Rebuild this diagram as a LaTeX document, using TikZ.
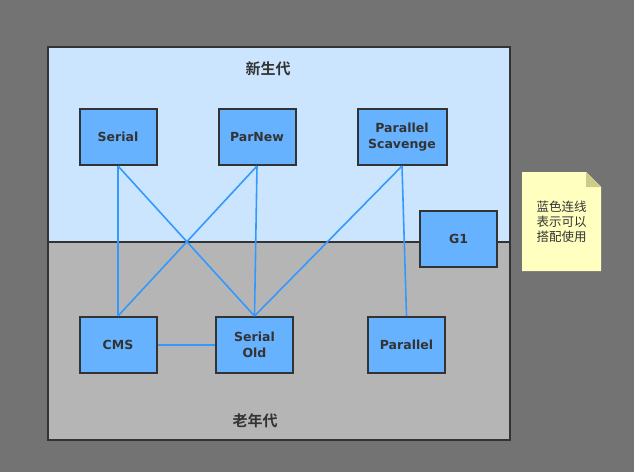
\documentclass[tikz,border=0pt]{standalone}
\usepackage{fontspec}
\setmainfont{DejaVu Sans}
\newfontfamily\cjk{Noto Sans CJK SC}[BoldFont={Noto Sans CJK SC Bold}]
\definecolor{bgGray}{HTML}{737373}
\definecolor{youngBlue}{HTML}{CCE5FF}
\definecolor{oldGray}{HTML}{B5B5B5}
\definecolor{boxBlue}{HTML}{66B2FF}
\definecolor{edgeDark}{HTML}{333333}
\definecolor{linkBlue}{HTML}{3399FF}
\definecolor{noteYellow}{HTML}{FFFFC0}
\definecolor{noteFold}{HTML}{CCCC88}

\tikzset{
  gcbox/.style={draw=edgeDark,line width=2pt,fill=boxBlue,minimum width=77pt,minimum height=56pt,
    align=center,text=edgeDark,font=\fontsize{12.5}{15.5}\selectfont\bfseries},
  link/.style={draw=linkBlue,line width=1.6pt},
  genlabel/.style={text=edgeDark,font=\cjk\fontsize{15}{18}\selectfont\bfseries}
}

\begin{document}
\begin{tikzpicture}[x=1pt,y=-1pt]
		% background and regions
		\fill[bgGray] (0,0) rectangle (634,472);
		\useasboundingbox (0,0) rectangle (634,472);
		\fill[youngBlue] (48,47) rectangle (510,241.5);
		\fill[oldGray] (48,241.5) rectangle (510,440);
		\draw[edgeDark,line width=2pt] (48,241.5)--(510,241.5);
		\draw[edgeDark,line width=2pt] (48,47) rectangle (510,440);
		\node[genlabel](young) at (268,69) {新生代};
		\node[genlabel](old) at (255,421) {老年代};
		% collectors
		\node[gcbox](serial) at (118,137) {Serial};
		\node[gcbox](parnew) at (257,137) {ParNew};
		\node[gcbox,minimum width=89pt](ps) at (402,137) {Parallel\\Scavenge};
		\node[gcbox](g1) at (458.5,239) {G1};
		\node[gcbox](cms) at (118,345) {CMS};
		\node[gcbox](serialold) at (254.5,345) {Serial\\Old};
		\node[gcbox](parallel) at (406.5,345) {Parallel};
		% combinations
		\draw[link] (serial.south)--(cms.north);
		\draw[link] (serial.south)--(serialold.north);
		\draw[link] (parnew.south)--(cms.north);
		\draw[link] (parnew.south)--(serialold.north);
		\draw[link] (ps.south)--(serialold.north);
		\draw[link] (ps.south)--(parallel.north);
		\draw[link] (cms.east)--(serialold.west);
		% note
		\fill[noteYellow] (522,172)--(586,172)--(601,187)--(601,271)--(522,271)--cycle;
		\fill[noteFold] (586,172)--(601,187)--(586,187)--cycle;
		\node[align=center,text=edgeDark,font=\cjk\fontsize{12.5}{15}\selectfont](note) at (561.5,222) {蓝色连线\\表示可以\\搭配使用};
	\end{tikzpicture}
\end{document}
